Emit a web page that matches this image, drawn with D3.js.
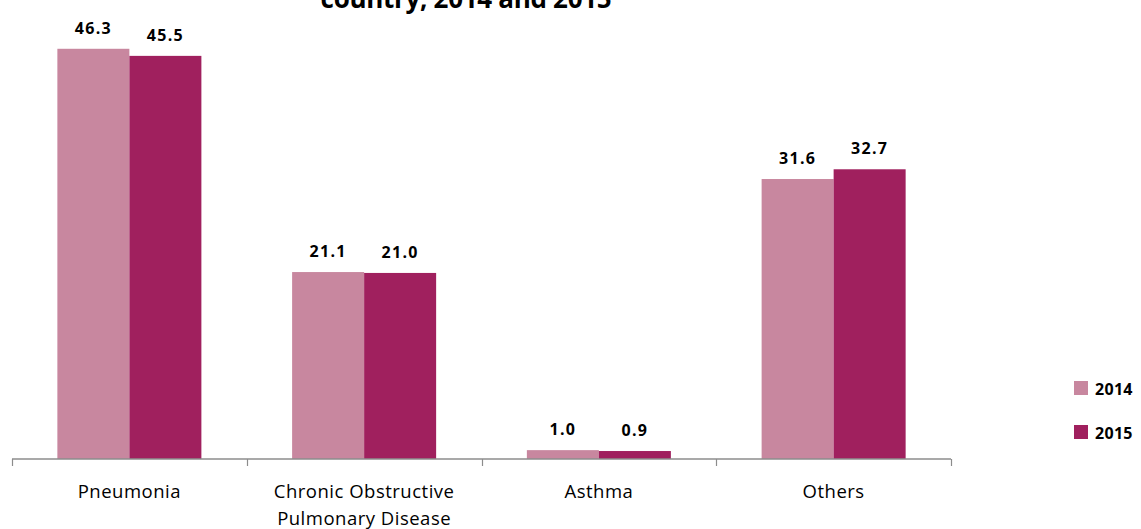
<!DOCTYPE html>
<html>
<head>
<meta charset="utf-8">
<script src="https://cdn.jsdelivr.net/npm/d3@7"></script>
<style>
  html, body { margin: 0; padding: 0; background: #fff; }
  svg { display: block; font-family: "Open Sans", "Noto Sans", sans-serif; }
</style>
</head>
<body>
<svg id="chart" width="1141" height="529"></svg>
<script>
// Respiratory causes, share by year
const categories = [["Pneumonia"], ["Chronic Obstructive", "Pulmonary Disease"], ["Asthma"], ["Others"]];
const years = ["2014", "2015"];
const values2014 = [46.3, 21.1, 1.0, 31.6];
const values2015 = [45.5, 21.0, 0.9, 32.7];
const colors = ["#C8879F", "#A0205E"];

const svg = d3.select("#chart");
const baseY = 459;

const x = d3.scaleBand()
  .domain(d3.range(categories.length))
  .range([12, 951])
  .paddingInner(0).paddingOuter(0);

const x1 = d3.scaleBand()
  .domain(years)
  .range([0, x.bandwidth()])
  .paddingInner(0)
  .paddingOuter(0.63);

const y = d3.scaleLinear().domain([0, 50]).range([baseY, 16]);

// Title (second line)
svg.append("text")
  .attr("x", 466).attr("y", 8)
  .attr("text-anchor", "middle")
  .attr("font-weight", "bold")
  .attr("font-size", 26)
  .attr("letter-spacing", -0.3)
  .attr("fill", "#000")
  .text("country, 2014 and 2015");

const series = years.map((yr, i) => ({ year: yr, color: colors[i], vals: i === 0 ? values2014 : values2015 }));

const groups = svg.append("g").selectAll("g")
  .data(series).join("g");

groups.selectAll("rect")
  .data(s => s.vals.map((v, i) => ({ v, i, year: s.year, color: s.color })))
  .join("rect")
  .attr("x", d => x(d.i) + x1(d.year))
  .attr("y", d => y(d.v))
  .attr("width", x1.bandwidth())
  .attr("height", d => baseY - y(d.v))
  .attr("fill", d => d.color);

groups.selectAll("text")
  .data(s => s.vals.map((v, i) => ({ v, i, year: s.year })))
  .join("text")
  .attr("x", d => x(d.i) + x1(d.year) + x1.bandwidth() / 2)
  .attr("y", d => y(d.v) - 15)
  .attr("text-anchor", "middle")
  .attr("font-weight", "bold")
  .attr("font-size", 16)
  .attr("letter-spacing", 1.3)
  .attr("fill", "#000")
  .text(d => d.v.toFixed(1));

// Category axis
const axis = svg.append("g");
axis.append("line")
  .attr("x1", 12).attr("x2", 951)
  .attr("y1", baseY).attr("y2", baseY)
  .attr("stroke", "#8c8c8c").attr("stroke-width", 1.5);
const tickXs = d3.range(categories.length + 1).map(i => i < categories.length ? x(i) : x(i - 1) + x.bandwidth());
axis.selectAll("line.tick")
  .data(tickXs).join("line")
  .attr("class", "tick")
  .attr("x1", d => Math.round(d) + 0.5).attr("x2", d => Math.round(d) + 0.5)
  .attr("y1", baseY).attr("y2", baseY + 7)
  .attr("stroke", "#8c8c8c").attr("stroke-width", 1.2);

const labels = axis.selectAll("text.cat")
  .data(categories).join("text")
  .attr("class", "cat")
  .attr("x", (d, i) => x(i) + x.bandwidth() / 2)
  .attr("y", 498)
  .attr("text-anchor", "middle")
  .attr("font-size", 18.5)
  .attr("letter-spacing", 0.5)
  .attr("fill", "#000");
labels.selectAll("tspan")
  .data(d => d).join("tspan")
  .attr("x", function () { return this.parentNode.getAttribute("x"); })
  .attr("dy", (d, i) => i === 0 ? 0 : 27)
  .text(d => d);

// Legend
const legend = svg.append("g").selectAll("g")
  .data(series).join("g")
  .attr("transform", (d, i) => `translate(1074, ${381 + i * 44})`);
legend.append("rect")
  .attr("width", 14).attr("height", 14)
  .attr("fill", d => d.color);
legend.append("text")
  .attr("x", 21).attr("y", 14)
  .attr("font-weight", "bold")
  .attr("font-size", 16)
  .attr("letter-spacing", 0.3)
  .attr("fill", "#000")
  .text(d => d.year);
</script>
</body>
</html>
